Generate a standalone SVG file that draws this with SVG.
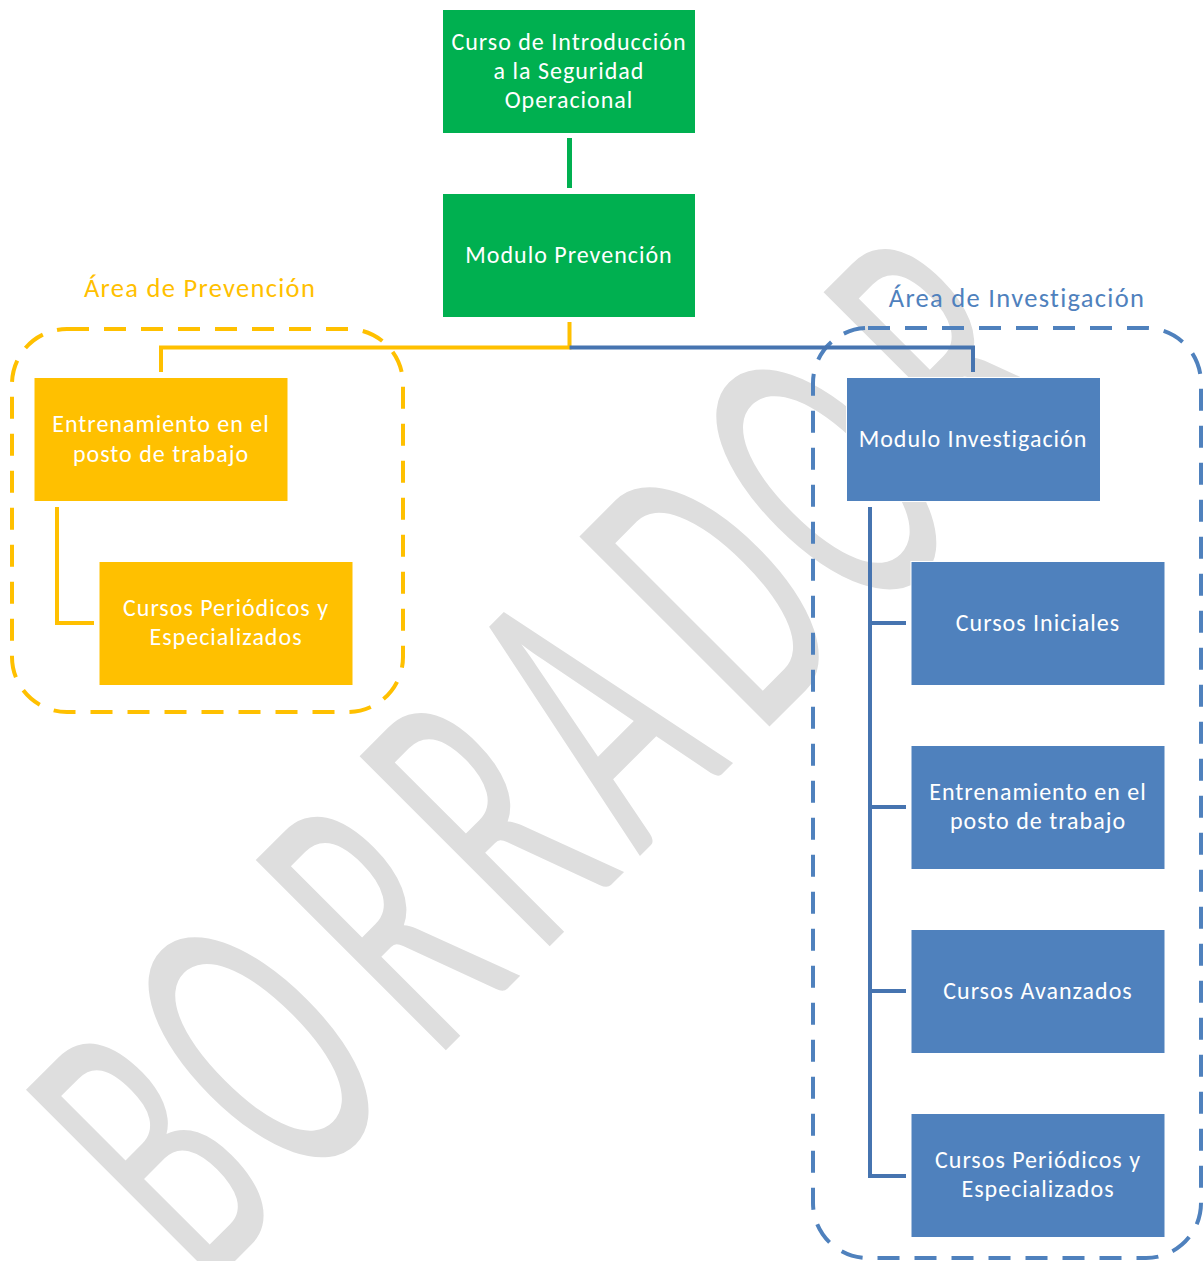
<svg xmlns="http://www.w3.org/2000/svg" width="1204" height="1261" viewBox="0 0 1204 1261">
<style>
.t{font-family:Carlito,Lato,"Open Sans",sans-serif;font-size:24px;fill:#ffffff;text-anchor:middle;letter-spacing:1px}
.lbl{font-family:Carlito,Lato,"Open Sans",sans-serif;font-size:26.5px;text-anchor:middle;letter-spacing:1.3px}
.g{fill:#00b050;stroke:#ffffff;stroke-width:1}
.y{fill:#ffc000;stroke:#ffffff;stroke-width:1}
.b{fill:#4f81bd;stroke:#ffffff;stroke-width:1}
.cy{fill:none;stroke:#ffc000;stroke-width:4}
.cb{fill:none;stroke:#4674b0;stroke-width:4}
.cg{fill:none;stroke:#00b050;stroke-width:5}
.wm{font-family:Carlito,Lato,"Open Sans",sans-serif;font-size:419px;fill:#dedede;text-anchor:middle}
</style>
<rect width="1204" height="1261" fill="#ffffff"/>
<g id="watermark" transform="translate(744,752) rotate(-45) scale(0.55,1)">
<text class="wm" x="-1273 -1004 -683 -416 -148 166 456 777" y="0">BORRADOR</text>
</g>
<g id="areas">
<rect id="area-prevencion" x="12" y="329" width="391" height="383" rx="55" ry="55" fill="none" stroke="#ffc000" stroke-width="4" stroke-dasharray="22 15"/>
<text class="lbl" x="200" y="297" fill="#ffc000">Área de Prevención</text>
<rect id="area-investigacion" x="813" y="328" width="388" height="930" rx="55" ry="55" fill="none" stroke="#4f81bd" stroke-width="4" stroke-dasharray="22 15"/>
<text class="lbl" x="1017" y="307" fill="#4f81bd">Área de Investigación</text>
</g>
<g id="connectors">
<path class="cg" d="M569.5 138 V188"/>
<path class="cy" d="M569.5 322 V347.5 H161 V372"/>
<path class="cb" d="M569.5 347.5 H973 V372"/>
<path class="cy" d="M57 507 V623 H94"/>
<path class="cb" d="M870 507 V1176 H906 M870 623 H906 M870 807 H906 M870 991 H906"/>
</g>
<g id="n-intro">
<rect class="g" x="442.5" y="9.5" width="253" height="124"/>
<text class="t" x="569" y="50">Curso de Introducción</text>
<text class="t" x="569" y="79">a la Seguridad</text>
<text class="t" x="569" y="108">Operacional</text>
</g>
<g id="n-prevencion">
<rect class="g" x="442.5" y="193.5" width="253" height="124"/>
<text class="t" x="569" y="263">Modulo Prevención</text>
</g>
<g id="n-entrenamiento-p">
<rect class="y" x="34" y="377.5" width="254" height="124"/>
<text class="t" x="161" y="432">Entrenamiento en el</text>
<text class="t" x="161" y="462">posto de trabajo</text>
</g>
<g id="n-cursos-p">
<rect class="y" x="99" y="561.5" width="254" height="124"/>
<text class="t" x="226" y="616">Cursos Periódicos y</text>
<text class="t" x="226" y="645">Especializados</text>
</g>
<g id="n-investigacion">
<rect class="b" x="846.5" y="377.5" width="254" height="124"/>
<text class="t" x="973" y="447">Modulo Investigación</text>
</g>
<g id="n-iniciales">
<rect class="b" x="911" y="561.5" width="254" height="124"/>
<text class="t" x="1038" y="631">Cursos Iniciales</text>
</g>
<g id="n-entrenamiento-i">
<rect class="b" x="911" y="745.5" width="254" height="124"/>
<text class="t" x="1038" y="800">Entrenamiento en el</text>
<text class="t" x="1038" y="829">posto de trabajo</text>
</g>
<g id="n-avanzados">
<rect class="b" x="911" y="929.5" width="254" height="124"/>
<text class="t" x="1038" y="999">Cursos Avanzados</text>
</g>
<g id="n-cursos-i">
<rect class="b" x="911" y="1113.5" width="254" height="124"/>
<text class="t" x="1038" y="1168">Cursos Periódicos y</text>
<text class="t" x="1038" y="1197">Especializados</text>
</g>
</svg>
